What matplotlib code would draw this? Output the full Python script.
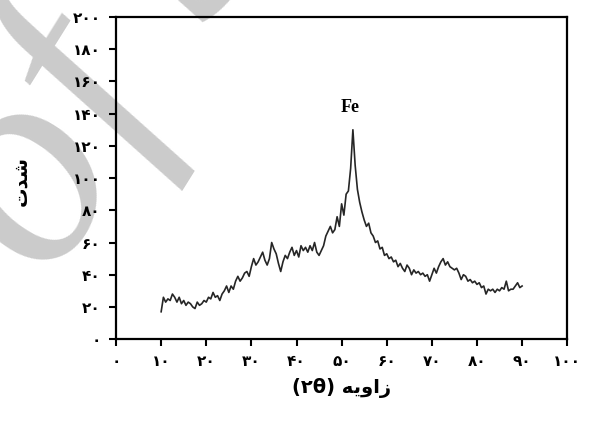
import numpy as np
import matplotlib
matplotlib.use('Agg')
import matplotlib.pyplot as plt

# =====
# DATA
# =====

# Scan angles 2theta [deg], 0.5 deg step
angles = [10.0, 10.5, 11.0, 11.5, 12.0, 12.5, 13.0, 13.5, 14.0, 14.5,
          15.0, 15.5, 16.0, 16.5, 17.0, 17.5, 18.0, 18.5, 19.0, 19.5,
          20.0, 20.5, 21.0, 21.5, 22.0, 22.5, 23.0, 23.5, 24.0, 24.5,
          25.0, 25.5, 26.0, 26.5, 27.0, 27.5, 28.0, 28.5, 29.0, 29.5,
          30.0, 30.5, 31.0, 31.5, 32.0, 32.5, 33.0, 33.5, 34.0, 34.5,
          35.0, 35.5, 36.0, 36.5, 37.0, 37.5, 38.0, 38.5, 39.0, 39.5,
          40.0, 40.5, 41.0, 41.5, 42.0, 42.5, 43.0, 43.5, 44.0, 44.5,
          45.0, 45.5, 46.0, 46.5, 47.0, 47.5, 48.0, 48.5, 49.0, 49.5,
          50.0, 50.5, 51.0, 51.5, 52.0, 52.5, 53.0, 53.5, 54.0, 54.5,
          55.0, 55.5, 56.0, 56.5, 57.0, 57.5, 58.0, 58.5, 59.0, 59.5,
          60.0, 60.5, 61.0, 61.5, 62.0, 62.5, 63.0, 63.5, 64.0, 64.5,
          65.0, 65.5, 66.0, 66.5, 67.0, 67.5, 68.0, 68.5, 69.0, 69.5,
          70.0, 70.5, 71.0, 71.5, 72.0, 72.5, 73.0, 73.5, 74.0, 74.5,
          75.0, 75.5, 76.0, 76.5, 77.0, 77.5, 78.0, 78.5, 79.0, 79.5,
          80.0, 80.5, 81.0, 81.5, 82.0, 82.5, 83.0, 83.5, 84.0, 84.5,
          85.0, 85.5, 86.0, 86.5, 87.0, 87.5, 88.0, 88.5, 89.0, 89.5,
          90.0]

# Intensity
intensity = [17, 26, 23, 25, 24, 28, 26, 23, 26, 22,
             24, 21, 23, 22, 20, 19, 23, 21, 22, 24,
             23, 26, 25, 29, 26, 27, 24, 28, 30, 33,
             29, 33, 31, 36, 39, 36, 38, 41, 42, 39,
             45, 50, 46, 48, 51, 54, 49, 46, 50, 60,
             56, 53, 47, 42, 48, 52, 50, 54, 57, 52,
             55, 51, 58, 55, 57, 54, 58, 55, 60, 54,
             52, 55, 58, 64, 67, 70, 66, 68, 76, 70,
             84, 77, 90, 92, 106, 130, 108, 93, 85, 79,
             74, 70, 72, 66, 64, 60, 61, 56, 57, 52,
             53, 50, 51, 48, 49, 45, 47, 44, 42, 46,
             44, 40, 43, 41, 42, 40, 41, 39, 40, 36,
             40, 44, 41, 45, 48, 50, 46, 48, 45, 44,
             43, 44, 41, 37, 40, 39, 36, 37, 35, 36,
             34, 35, 32, 33, 28, 31, 30, 31, 29, 31,
             30, 32, 31, 36, 30, 31, 31, 33, 35, 32,
             33]

x_ticks = [0, 10, 20, 30, 40, 50, 60, 70, 80, 90, 100]
y_ticks = [0, 20, 40, 60, 80, 100, 120, 140, 160, 180, 200]

# Persian digits for tick labels
fa_digits = '۰۱۲۳۴۵۶۷۸۹'
def to_fa(n):
    return ''.join(fa_digits[int(c)] for c in str(n))

# Labels, already in visual (left-to-right) order with shaped letters
x_label = '(۲θ) ' + '\uFEEA\uFBFE\uFEED\uFE8D\uFEAF'   # زاویه (۲θ)
y_label = '\uFE95\uFEAA\uFEB7'                          # شدت
peak_label = 'Fe'

# =====
# PLOT
# =====

fig = plt.figure(figsize=(5.89, 4.25), dpi=100)
ax = fig.add_axes([0.197, 0.202, 0.766, 0.758])
ax.patch.set_alpha(0)

# Watermark behind the axes
fig.text(-0.21, 0.40, 'of S', fontsize=210, rotation=58, style='italic',
         family='Liberation Serif', color='#cbcbcb', zorder=-1)

ax.plot(angles, intensity, color='#262626', linewidth=1.2)
ax.text(51.9, 144, peak_label, ha='center', va='center', fontsize=13,
        fontweight='bold', family='Liberation Serif')

ax.set_xlim(0, 100)
ax.set_ylim(0, 200)
ax.set_xticks(x_ticks)
ax.set_yticks(y_ticks)
ax.set_xticklabels([to_fa(t) for t in x_ticks], fontsize=11, fontweight='bold')
ax.set_yticklabels([to_fa(t) for t in y_ticks], fontsize=11, fontweight='bold')
ax.tick_params(direction='out', length=5, width=1.5, pad=6)

for s in ax.spines.values():
    s.set_linewidth(1.6)

ax.set_xlabel(x_label, fontsize=14, fontweight='bold', labelpad=6)
ax.set_ylabel(y_label, fontsize=14, fontweight='bold')
ax.yaxis.set_label_coords(-0.19, 0.49)

fig.savefig('out.png', dpi=100)
